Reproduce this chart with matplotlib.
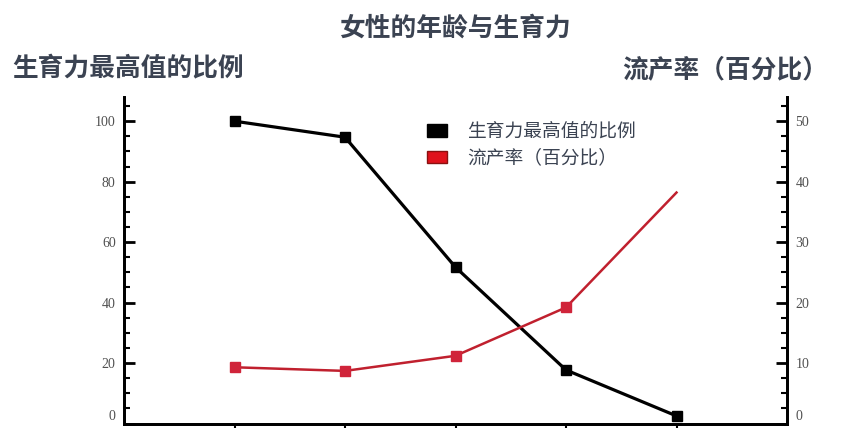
import numpy as np
import matplotlib
matplotlib.use('Agg')
import matplotlib.pyplot as plt
from matplotlib.patches import Patch
from matplotlib.ticker import MultipleLocator, NullFormatter

plt.rcParams['font.family'] = ['Noto Sans CJK SC', 'DejaVu Sans']

# data (x labels are cropped in the reference)
positions = [1, 2, 3, 4, 5]
fertility = [100, 94.7, 51.7, 17.7, 2.5]       # 生育力最高值的比例 (left axis)
miscarriage = [9.3, 8.7, 11.2, 19.2, 38.2]     # 流产率 (right axis, %)

left_ticks = [0, 20, 40, 60, 80, 100]
right_ticks = [0, 10, 20, 30, 40, 50]

title = '女性的年龄与生育力'
left_label = '生育力最高值的比例'
right_label = '流产率（百分比）'

text_color = '#3b4352'
red = '#c0202e'

fig = plt.figure(figsize=(8.6, 4.28), dpi=100)
ax = fig.add_axes([124 / 860, 1 - 423.5 / 428, 663 / 860, 326.5 / 428])
ax2 = ax.twinx()

ax.plot(positions, fertility, color='black', lw=2.3, marker='s', ms=7, zorder=3)
ax2.plot(positions, miscarriage, color=red, lw=1.8, marker='s', ms=6.5,
         markevery=[0, 1, 2, 3], mfc='#d0243a', mec='#d0243a', zorder=2)

ax.set_xlim(0, 6)
ax.set_ylim(0, 108)
ax2.set_ylim(0, 54)

for a in (ax, ax2):
    a.spines['top'].set_visible(False)
    for s in ('left', 'right', 'bottom'):
        a.spines[s].set_linewidth(2)

ax.set_xticks(positions)
ax.xaxis.set_major_formatter(NullFormatter())
ax.tick_params(axis='x', direction='out', length=5, width=1.5)

ax.set_yticks(left_ticks)
ax2.set_yticks(right_ticks)
ax.yaxis.set_minor_locator(MultipleLocator(5))
ax2.yaxis.set_minor_locator(MultipleLocator(2.5))
for a in (ax, ax2):
    a.tick_params(axis='y', which='major', direction='in', length=8, width=2,
                  pad=6, labelsize=10, labelcolor='#505050')
    a.tick_params(axis='y', which='minor', direction='in', length=4, width=1.5)
    labels = a.get_yticklabels()
    for lab in labels:
        lab.set_family('Liberation Serif')
    # keep the "0" inside the canvas
    labels[0].set_verticalalignment('bottom')

fig.text(0.529, 1 - 28 / 428, title, ha='center', va='center',
         fontsize=18.5, color=text_color, fontweight='bold')
fig.text(12 / 860, 1 - 68 / 428, left_label, ha='left', va='center',
         fontsize=18.5, color=text_color, fontweight='bold')
fig.text(828 / 860, 1 - 70 / 428, right_label, ha='right', va='center',
         fontsize=18.5, color=text_color, fontweight='bold')

handles = [Patch(facecolor='black', edgecolor='black'),
           Patch(facecolor='#e0121c', edgecolor='#8a1010')]
fig.legend(handles, [left_label, right_label], loc='upper left',
           bbox_to_anchor=(427 / 860, 1 - 121 / 428), frameon=False,
           borderpad=0, borderaxespad=0, handlelength=1.05, handleheight=0.65,
           handletextpad=1.1, labelspacing=0.3, labelcolor=text_color,
           prop={'size': 13.5})

fig.savefig('out.png', dpi=100)
